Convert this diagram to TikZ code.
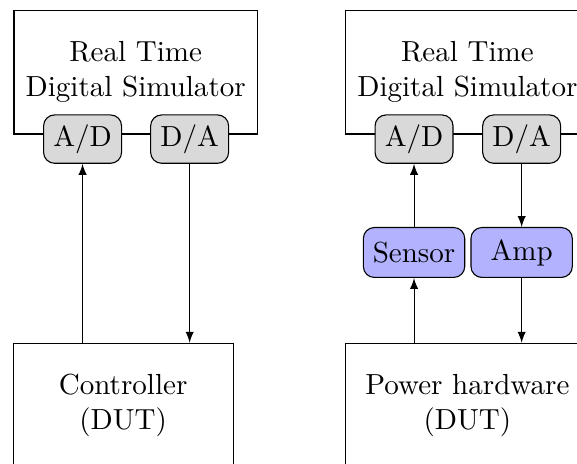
\documentclass[tikz,border=0pt]{standalone}
\usepackage{tikz}
\usetikzlibrary{arrows}

\begin{document}
\begin{tikzpicture}[
		font=\fontsize{10.6pt}{12.6pt}\selectfont,
		block/.style={draw, minimum height=1.59cm, align=center},
		conv/.style={draw, fill=black!15, rounded corners, minimum width=1cm, minimum height=0.62cm},
		hw/.style={draw, fill=blue!30, rounded corners, minimum width=1.3cm, minimum height=0.64cm},
	]
		\useasboundingbox (0,0) rectangle (7.4,5.94);
		\clip (0,0) rectangle (7.4,5.94);
		%
		% controller in the loop
		\node[block, minimum width=3.12cm] (rtdsL) at (1.74,5.016) {Real Time\\Digital Simulator};
		\node[conv] (adL) at (1.059,4.156) {A/D};
		\node[conv] (daL) at (2.432,4.156) {D/A};
		\node[block, minimum width=2.82cm] (ctrl) at (1.579,0.742) {Controller\\(DUT)};
		\draw[-latex] (adL.south |- ctrl.north) -- (adL.south);
		\draw[-latex] (daL.south) -- (daL.south |- ctrl.north);
		%
		% power hardware in the loop
		\node[block, minimum width=3.12cm] (rtdsR) at (5.994,5.016) {Real Time\\Digital Simulator};
		\node[conv] (adR) at (5.31,4.156) {A/D};
		\node[conv] (daR) at (6.69,4.156) {D/A};
		\node[hw] (sens) at (5.31,2.702) {Sensor};
		\node[hw] (amp) at (6.69,2.702) {Amp};
		\node[block, minimum width=3.12cm] (phw) at (5.994,0.742) {Power hardware\\(DUT)};
		\draw[-latex] (sens) -- (adR);
		\draw[-latex] (daR) -- (amp);
		\draw[-latex] (sens.south |- phw.north) -- (sens.south);
		\draw[-latex] (amp.south) -- (amp.south |- phw.north);
	\end{tikzpicture}
\end{document}
